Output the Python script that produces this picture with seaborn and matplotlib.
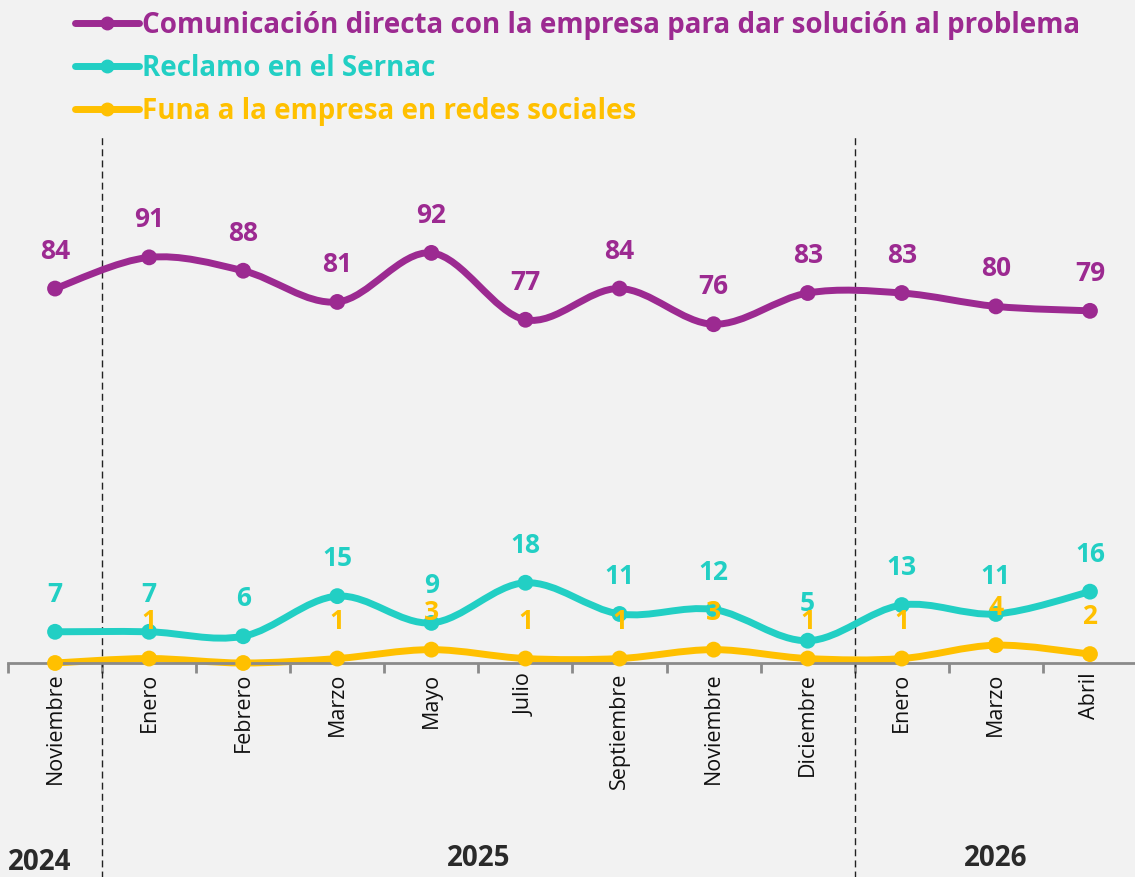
import numpy as np
import pandas as pd
import seaborn as sns
import matplotlib.pyplot as plt
from matplotlib.path import Path
from matplotlib.patches import PathPatch
from matplotlib.lines import Line2D

# Datos
meses = ['Noviembre', 'Enero', 'Febrero', 'Marzo', 'Mayo', 'Julio', 'Septiembre',
         'Noviembre', 'Diciembre', 'Enero', 'Marzo', 'Abril']
comunicacion = [84, 91, 88, 81, 92, 77, 84, 76, 83, 83, 80, 79]
sernac = [7, 7, 6, 15, 9, 18, 11, 12, 5, 13, 11, 16]
funa = [0, 1, 0, 1, 3, 1, 1, 3, 1, 1, 4, 2]
series = ['Comunicación directa con la empresa para dar solución al problema',
          'Reclamo en el Sernac',
          'Funa a la empresa en redes sociales']
colores = ['#9c2a91', '#22cfc4', '#ffc000']
anios = ['2024', '2025', '2026']
anio_rango = [(0, 0), (1, 8), (9, 11)]

df = pd.DataFrame({
    'x': list(range(len(meses))) * 3,
    'valor': comunicacion + sernac + funa,
    'serie': [s for s in series for _ in meses],
})

sns.set_theme(style='white')
plt.rcParams['font.family'] = ['Open Sans', 'DejaVu Sans']
plt.rcParams['font.stretch'] = 'normal'
fondo = '#f2f2f2'

fig = plt.figure(figsize=(11.35, 8.77), dpi=100, facecolor=fondo)
ax = fig.add_axes([8 / 1135, 214 / 877, 1129 / 1135, 526 / 877])
ax.set_facecolor(fondo)


def curva(ys):
    # trazo suave tipo catmull-rom entre los puntos
    pts = np.column_stack([np.arange(len(ys)), np.asarray(ys, float)])
    verts = [tuple(pts[0])]
    codes = [Path.MOVETO]
    n = len(pts)
    for i in range(n - 1):
        p0 = pts[max(i - 1, 0)]
        p1, p2 = pts[i], pts[i + 1]
        p3 = pts[min(i + 2, n - 1)]
        verts += [tuple(p1 + (p2 - p0) / 6), tuple(p2 - (p3 - p1) / 6), tuple(p2)]
        codes += [Path.CURVE4] * 3
    return Path(verts, codes)


for s, c in zip(series, colores):
    sub = df[df['serie'] == s]
    ax.add_patch(PathPatch(curva(sub['valor'].values), facecolor='none', edgecolor=c,
                           lw=5, capstyle='round', zorder=2, clip_on=False))

sns.scatterplot(data=df, x='x', y='valor', hue='serie', palette=colores, s=130,
                edgecolor='none', legend=False, zorder=3, clip_on=False, ax=ax)

for s, c in zip(series, colores):
    sub = df[df['serie'] == s]
    for x, v in zip(sub['x'], sub['valor']):
        if v == 0:
            continue
        ax.annotate(str(v), (x, v), xytext=(0, 27), textcoords='offset points',
                    ha='center', va='center', color=c, fontsize=19,
                    fontweight='bold', fontstretch='normal')

ax.set_xlim(-0.5, 11.5)
ax.set_ylim(0, 118)
ax.set_xticks(range(len(meses)), meses, rotation=90)
ax.set_xticks(np.arange(-0.5, len(meses), 1), minor=True)
ax.tick_params(axis='x', which='major', length=0, pad=7, labelsize=15.5, labelcolor='#111')
ax.tick_params(axis='x', which='minor', bottom=True, length=7, width=2, color='#8a8a8a')
ax.set_yticks([])
ax.set_xlabel('')
ax.set_ylabel('')
for side in ['left', 'right', 'top']:
    ax.spines[side].set_visible(False)
ax.spines['bottom'].set_color('#8a8a8a')
ax.spines['bottom'].set_linewidth(2)

for xv in [0.5, 8.5]:
    ax.axvline(xv, ymin=-0.41, ymax=1, color='#222222', lw=1, ls=(0, (5, 3)),
               clip_on=False, zorder=1)

# etiquetas de anio bajo el eje
trans = ax.get_xaxis_transform()
yprops = dict(fontsize=20, fontweight='bold', color='#2a2a2a',
              family=['Open Sans'], fontstretch='condensed')
for a, (i0, i1) in zip(anios, anio_rango):
    if i0 == i1:
        ax.text(i0 - 0.5, -(862 - 663) / 526, a, transform=trans, ha='left',
                va='center', **yprops)
    else:
        ax.text((i0 + i1) / 2, -(858 - 663) / 526, a, transform=trans, ha='center',
                va='center', **yprops)

handles = [Line2D([0], [0], color=c, lw=5, marker='o', markersize=9, solid_capstyle='round')
           for c in colores]
fig.legend(handles, series, loc='upper left', bbox_to_anchor=(64 / 1135, 1.0),
           frameon=False, labelcolor=colores, handlelength=2.3, handletextpad=0.1,
           labelspacing=0.5, borderaxespad=0,
           prop={'family': ['Open Sans', 'DejaVu Sans'], 'weight': 'bold',
                 'stretch': 'normal', 'size': 20})

fig.savefig('out.png', dpi=100, facecolor=fondo)
